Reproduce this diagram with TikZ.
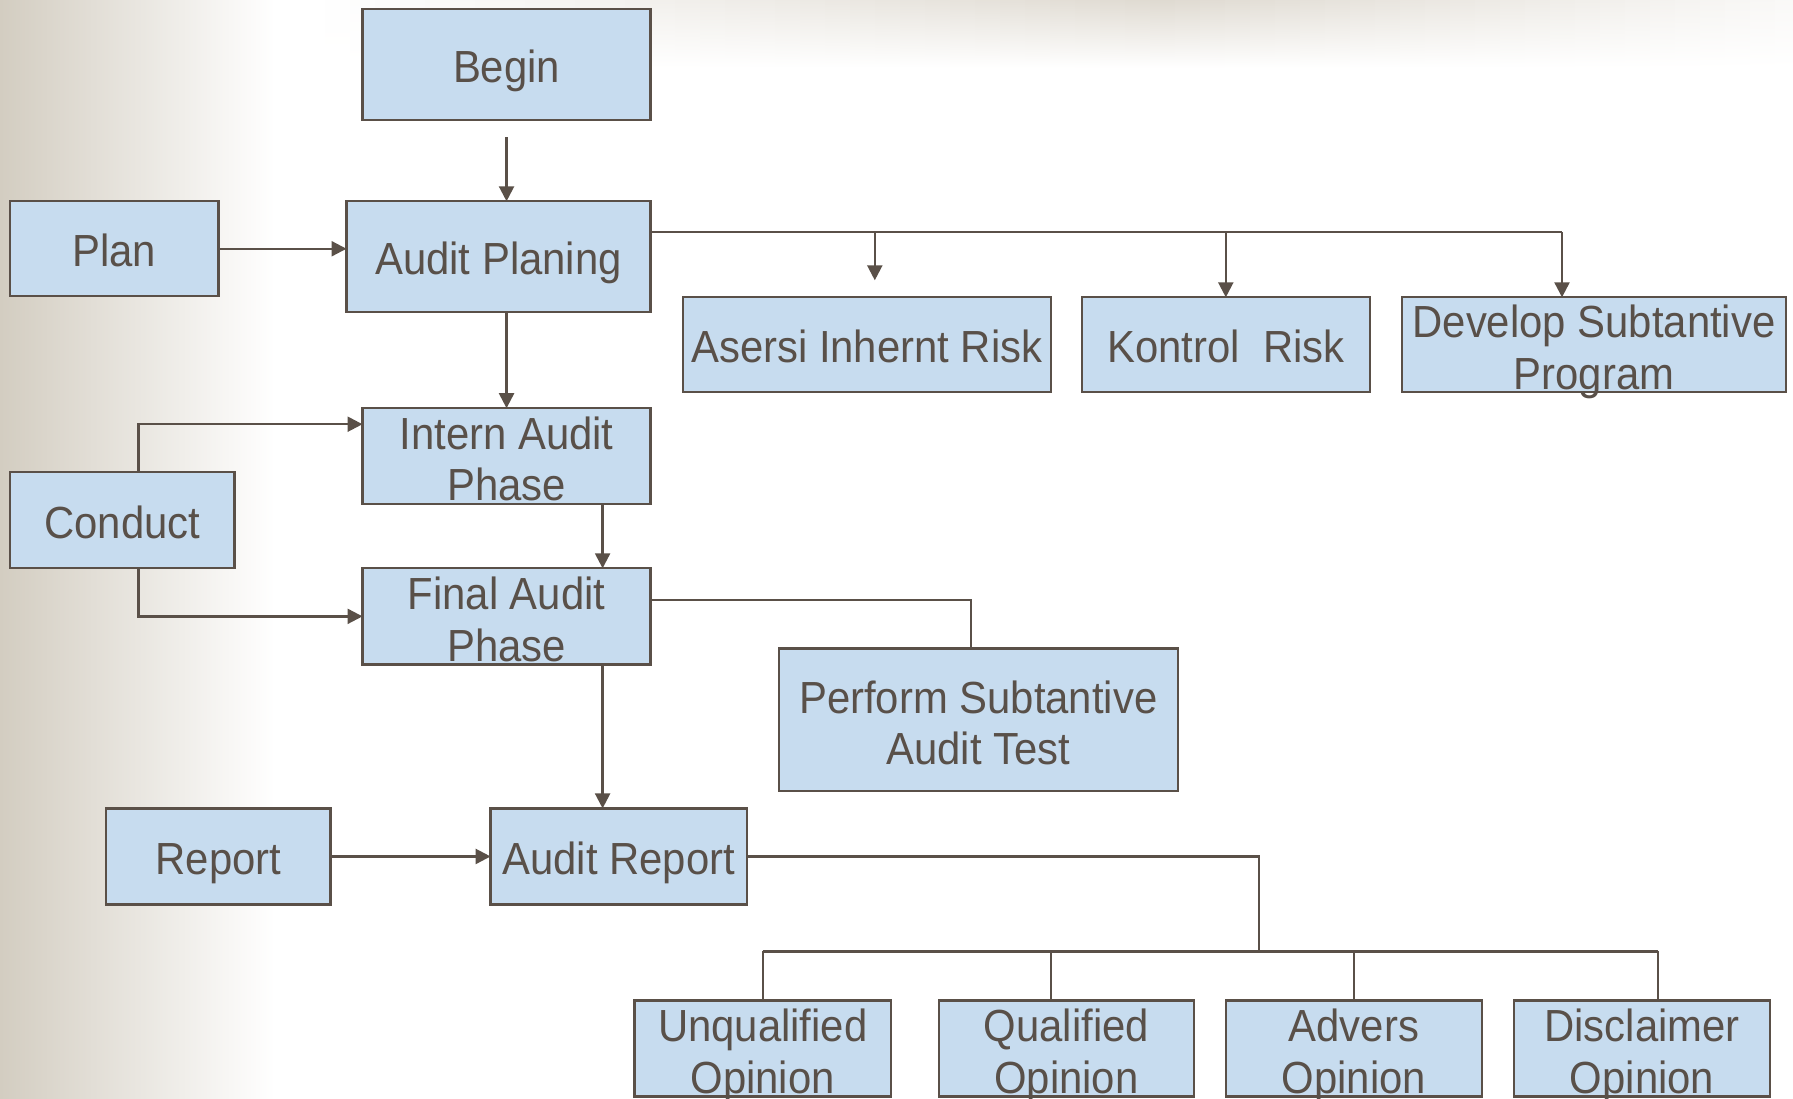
\documentclass[tikz,border=0pt]{standalone}
\usepackage{fontspec}
\setmainfont{Liberation Sans}[FakeStretch=0.93]
\usetikzlibrary{arrows.meta}
\definecolor{boxfill}{HTML}{C7DCEF}
\definecolor{edge}{HTML}{5A5048}
\definecolor{txt}{HTML}{595049}
\definecolor{bgtan}{HTML}{D3CDC1}
\definecolor{bgtop}{HTML}{DFDAD1}
\newcommand\twol[2]{\rule{0pt}{40pt}#1\\\smash{#2}\rule[-2.2pt]{0pt}{2.2pt}}
\tikzset{
  boxbase/.style={draw=edge, fill=boxfill, line width=2.3pt, inner sep=0pt, outer sep=0pt,
    align=center, text=txt, font=\fontsize{45}{51.5}\selectfont},
  box/.style={boxbase,
    execute at begin node={\rule{0pt}{45.4pt}},
    execute at end node={\rule[-10pt]{0pt}{10pt}}},
  box2/.style={boxbase},
  conn/.style={draw=edge, line width=2.3pt},
  arr/.style={conn, -{Triangle[length=15pt,width=15pt]}}
}
\begin{document}
\begin{tikzpicture}[x=1pt,y=-1pt]
\useasboundingbox (0,0) rectangle (1793,1098);
% background
\fill[white] (0,0) rectangle (1793,1098);
\shade[left color=bgtan, right color=white] (0,0) rectangle (275,1098);
\foreach \i in {0,...,59}{
  \pgfmathsetmacro{\xa}{300+\i*25}
  \pgfmathsetmacro{\xb}{\xa+25.5}
  \pgfmathsetmacro{\pc}{\xa<1150 ? (\xa-300)/8.5 : 100-(\xa-1150)*0.1322}
  \shade[top color=bgtop!\pc!white, bottom color=white] (\xa,0) rectangle (\xb,68);
}

% nodes
\node[box, minimum width=288.1pt, minimum height=111pt] (begin) at (506.55,64.6) {Begin};
\node[box, minimum width=208.1pt, minimum height=94.9pt] (plan) at (114.35,248.75) {Plan};
\node[box, minimum width=304.1pt, minimum height=110.9pt] (ap) at (498.55,256.75) {Audit Planing};
\node[box, minimum width=368.2pt, minimum height=94.9pt] (asersi) at (866.8,344.75) {Asersi Inhernt Risk};
\node[box, minimum width=288.2pt, minimum height=94.9pt] (kontrol) at (1225.8,344.75) {Kontrol\ \ Risk};
\node[box2, minimum width=384.2pt, minimum height=94.9pt] (develop) at (1594,344.75) {\twol{Develop Subtantive}{Program}};
\node[box2, minimum width=288.1pt, minimum height=96.1pt] (intern) at (506.55,456.25) {\twol{Intern Audit}{Phase}};
\node[box, minimum width=224.1pt, minimum height=96pt] (conduct) at (122.35,520.3) {Conduct};
\node[box2, minimum width=288.1pt, minimum height=96.1pt] (final) at (506.55,616.35) {\twol{Final Audit}{Phase}};
\node[box2, minimum width=399.1pt, minimum height=142.9pt] (perform) at (978.25,719.85) {\twol{Perform Subtantive}{Audit Test}};
\node[box, minimum width=224.2pt, minimum height=96.1pt] (report) at (218.4,856.45) {Report};
\node[box, minimum width=256.1pt, minimum height=96.1pt] (areport) at (618.65,856.45) {Audit Report};
\node[box2, minimum width=256.2pt, minimum height=96pt] (unq) at (762.7,1048.6) {\twol{Unqualified}{Opinion}};
\node[box2, minimum width=255pt, minimum height=96pt] (qual) at (1066.3,1048.6) {\twol{Qualified}{Opinion}};
\node[box2, minimum width=256.2pt, minimum height=96pt] (adv) at (1353.9,1048.6) {\twol{Advers}{Opinion}};
\node[box2, minimum width=256.1pt, minimum height=96pt] (disc) at (1642.05,1048.6) {\twol{Disclaimer}{Opinion}};

% helper coordinates on box edges
\coordinate (apout) at (650.6,232.1);
\coordinate (asx) at (874.8,297.3);
\coordinate (dvx) at (1562,297.3);
\coordinate (cu) at (138.4,472.3);
\coordinate (cd) at (138.4,568.3);
\coordinate (iw) at (362.5,424.2);
\coordinate (i2f) at (602.6,504.3);
\coordinate (f2r) at (602.6,664.4);
\coordinate (fo) at (650.6,600.3);
\coordinate (px) at (970.8,648.4);
\coordinate (hub) at (1259,951.4);
\coordinate (qx) at (1050.9,1000.6);
\coordinate (dx) at (1658.1,1000.6);

% connectors
\draw[arr, shorten <=17pt] (begin.south) -- (begin.south |- ap.north);
\draw[arr] (plan.east) -- (plan.east -| ap.west);
\draw[conn] (apout) -- (apout -| dvx);
\draw[arr, shorten >=17pt] (apout -| asx) -- (asx);
\draw[arr] (apout -| kontrol.north) -- (kontrol.north);
\draw[arr] (apout -| dvx) -- (dvx);
\draw[arr] (intern.north |- ap.south) -- (intern.north);
\draw[arr] (cu) |- (iw);
\draw[arr] (cd) |- (final.west);
\draw[arr] (i2f) -- (i2f |- final.north);
\draw[conn] (fo) -| (px);
\draw[arr] (f2r) -- (f2r |- areport.north);
\draw[arr] (report.east) -- (areport.west);
\draw[conn] (areport.east) -| (hub);
\draw[conn] (hub -| unq.north) -- (hub -| dx);
\draw[conn] (hub -| unq.north) -- (unq.north);
\draw[conn] (hub -| qx) -- (qx);
\draw[conn] (hub -| adv.north) -- (adv.north);
\draw[conn] (hub -| dx) -- (dx);
\end{tikzpicture}
\end{document}
